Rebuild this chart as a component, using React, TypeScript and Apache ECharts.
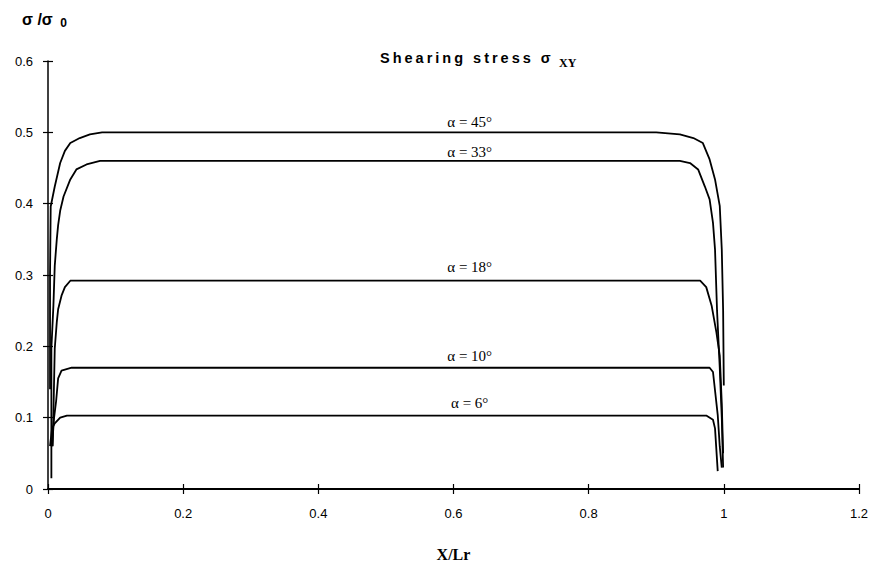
import React, { useEffect, useRef } from "react";
import * as echarts from "echarts";

const xTicks = [0, 0.2, 0.4, 0.6, 0.8, 1, 1.2];
const yTicks = [0, 0.1, 0.2, 0.3, 0.4, 0.5, 0.6];

const curveNames = ["α = 45°", "α = 33°", "α = 18°", "α = 10°", "α = 6°"];

const alpha45 = [
  [0.003, 0.14], [0.003, 0.3], [0.004, 0.396], [0.01, 0.424], [0.018, 0.457],
  [0.025, 0.474], [0.033, 0.485], [0.047, 0.492], [0.062, 0.497], [0.08, 0.5],
  [0.9, 0.5], [0.935, 0.497], [0.955, 0.492], [0.969, 0.485], [0.979, 0.462],
  [0.987, 0.434], [0.994, 0.397], [0.997, 0.336], [0.999, 0.25], [1.0, 0.145],
];
const alpha33 = [
  [0.005, 0.015], [0.005, 0.197], [0.008, 0.257], [0.01, 0.313], [0.013, 0.35],
  [0.015, 0.37], [0.018, 0.39], [0.023, 0.41], [0.033, 0.434], [0.042, 0.448],
  [0.057, 0.455], [0.077, 0.46], [0.935, 0.46], [0.95, 0.457], [0.962, 0.448],
  [0.972, 0.424], [0.979, 0.406], [0.984, 0.373], [0.987, 0.336], [0.99, 0.25],
  [0.994, 0.17], [0.997, 0.1], [0.999, 0.03],
];
const alpha18 = [
  [0.007, 0.06], [0.01, 0.197], [0.013, 0.234], [0.015, 0.252], [0.02, 0.271],
  [0.025, 0.283], [0.033, 0.292], [0.965, 0.292], [0.974, 0.283], [0.982, 0.257],
  [0.989, 0.22], [0.994, 0.187], [0.997, 0.12], [0.999, 0.05],
];
const alpha10 = [
  [0.006, 0.06], [0.009, 0.1], [0.012, 0.123], [0.015, 0.155], [0.02, 0.166],
  [0.035, 0.17], [0.979, 0.17], [0.984, 0.164], [0.991, 0.104], [0.994, 0.06],
  [0.997, 0.03],
];
const alpha6 = [
  [0.003, 0.06], [0.006, 0.085], [0.01, 0.092], [0.018, 0.1], [0.028, 0.103],
  [0.974, 0.103], [0.984, 0.097], [0.987, 0.085], [0.991, 0.025],
];
const curves = [alpha45, alpha33, alpha18, alpha10, alpha6];
const labelX = [0.624, 0.624, 0.624, 0.624, 0.624];
const labelY = [0.515, 0.473, 0.311, 0.187, 0.12];

export default function App() {
  const ref = useRef<HTMLDivElement>(null);
  useEffect(() => {
    if (!ref.current) return;
    const chart = echarts.init(ref.current, null, { renderer: "svg" });
    const axisCommonX = {
      type: "value",
      min: xTicks[0],
      max: xTicks[xTicks.length - 1],
      interval: 0.2,
      splitLine: { show: false },
    };
    const axisCommonY = {
      type: "value",
      min: yTicks[0],
      max: yTicks[yTicks.length - 1],
      interval: 0.1,
      splitLine: { show: false },
    };
    chart.setOption({
      animation: false,
      backgroundColor: "#ffffff",
      grid: { left: 48, right: 12, top: 61, bottom: 76 },
      xAxis: [
        {
          ...axisCommonX,
          position: "bottom",
          axisLine: { show: true, lineStyle: { color: "#000", width: 2 } },
          axisTick: { show: true, inside: false, length: 5, lineStyle: { color: "#000", width: 1.2 } },
          axisLabel: { color: "#000", fontFamily: "Arial, 'Liberation Sans'", fontSize: 13, margin: 18 },
          name: "X/Lr",
          nameLocation: "middle",
          nameGap: 57,
          nameTextStyle: { color: "#000", fontFamily: "'Liberation Serif', serif", fontWeight: "bold", fontSize: 16 },
        },
        {
          ...axisCommonX,
          position: "bottom",
          axisLine: { show: false },
          axisTick: { show: true, inside: true, length: 5, lineStyle: { color: "#000", width: 1.2 } },
          axisLabel: { show: false },
        },
      ],
      yAxis: [
        {
          ...axisCommonY,
          position: "left",
          axisLine: { show: true, lineStyle: { color: "#000", width: 1.5 } },
          axisTick: { show: true, inside: false, length: 5, lineStyle: { color: "#000", width: 1.2 } },
          axisLabel: { color: "#000", fontFamily: "Arial, 'Liberation Sans'", fontSize: 13, margin: 15 },
        },
        {
          ...axisCommonY,
          position: "left",
          axisLine: { show: false },
          axisTick: { show: true, inside: true, length: 5, lineStyle: { color: "#000", width: 1.2 } },
          axisLabel: { show: false },
        },
      ],
      graphic: [
        {
          type: "text",
          left: 380,
          top: 50,
          style: {
            text: "Shearing stress σ",
            fill: "#000",
            font: "bold 14.5px Arial, 'Liberation Sans'",
          },
        },
        {
          type: "text",
          left: 559,
          top: 57,
          style: {
            text: "XY",
            fill: "#000",
            font: "bold 12px 'Liberation Serif', serif",
          },
        },
        {
          type: "text",
          left: 22,
          top: 11,
          style: {
            text: "σ /σ {sub|0}",
            fill: "#000",
            font: "bold 16px Arial, 'Liberation Sans'",
            rich: {
              sub: {
                fontFamily: "Arial, 'Liberation Sans'",
                fontWeight: "bold",
                fontSize: 12,
                padding: [8, 0, 0, 3],
                fill: "#000",
              },
            },
          },
        },
      ],
      series: curves.map((data, i) => ({
        type: "line",
        name: curveNames[i],
        data,
        showSymbol: false,
        symbol: "none",
        smooth: false,
        lineStyle: { color: "#000", width: 1.8 },
        xAxisIndex: 0,
        yAxisIndex: 0,
        markPoint: {
          symbol: "circle",
          symbolSize: 0,
          data: [
            {
              coord: [labelX[i], labelY[i]],
              label: {
                show: true,
                position: "inside",
                formatter: curveNames[i],
                color: "#000",
                fontFamily: "'Liberation Serif', serif",
                fontSize: 15,
              },
            },
          ],
        },
      })),
    });
    return () => chart.dispose();
  }, []);
  return (
    <>
      <style>{`#root text[style*="14.5px"] { letter-spacing: 3px; }`}</style>
      <div
        ref={ref}
        style={{ position: "absolute", left: 0, top: 0, width: 871, height: 567 }}
      />
    </>
  );
}
